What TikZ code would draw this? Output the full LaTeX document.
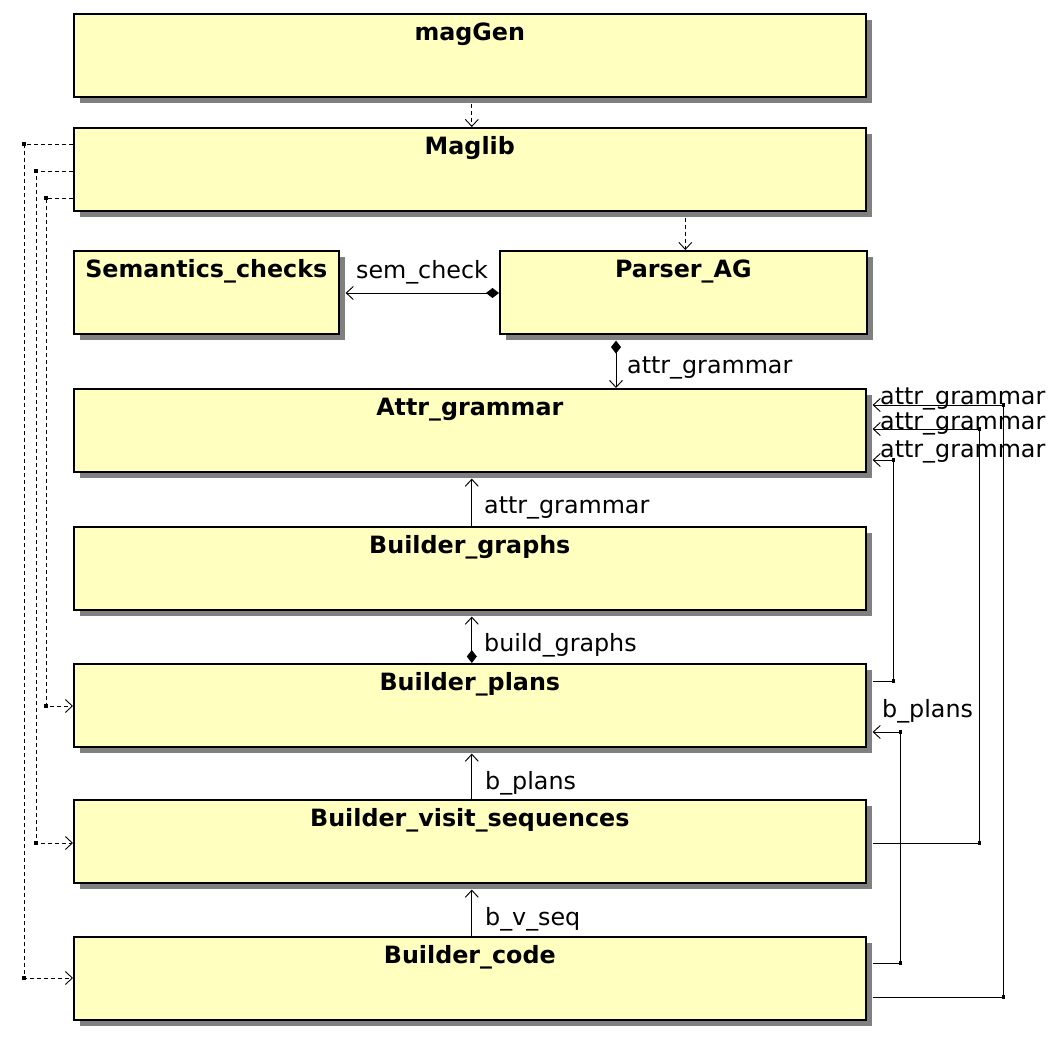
\documentclass[tikz,border=0pt]{standalone}
\usepackage{fontspec}
\setmainfont{DejaVu Sans}
\usetikzlibrary{arrows.meta,calc,shadows}
\definecolor{boxfill}{RGB}{255,255,192}
\definecolor{shadowgray}{RGB}{128,128,128}
\newcommand\cornerdot[1]{\fill (#1) ++(-1.6,-1.6) rectangle ++(3.2,3.2);}
\begin{document}
\begin{tikzpicture}[x=1pt,y=-1pt,
  box/.style={draw=black, line width=1.6pt, fill=boxfill, rectangle, anchor=north west,
    inner sep=0pt, minimum height=83pt, text height=27pt, text depth=56pt,
    font=\bfseries\fontsize{23.8}{28}\selectfont,
    drop shadow={shadow xshift=6pt, shadow yshift=-6pt, fill=shadowgray, opacity=1}},
  lbl/.style={font=\fontsize{23.8}{28}\selectfont, inner sep=0pt, anchor=base west},
  conn/.style={line width=0.95pt, -{Straight Barb[length=7pt,width=13pt]}},
  dconn/.style={conn, line width=0.9pt, dash pattern=on 4pt off 3pt},
  dia/.style={{Diamond[length=13pt,width=10pt]}-{Straight Barb[length=7pt,width=13pt]}}]
\useasboundingbox (0,0) rectangle (1058,1037);
% boxes
\node[box, minimum width=792pt] (maggen) at (73,13) {magGen};
\node[box, minimum width=792pt] (maglib) at (73,127) {Maglib};
\node[box, minimum width=265pt] (sem) at (73,250) {Semantics\_checks};
\node[box, minimum width=367pt] (parser) at (499,250) {Parser\_AG};
\node[box, minimum width=792pt] (attr) at (73,388) {Attr\_grammar};
\node[box, minimum width=792pt] (graphs) at (73,526) {Builder\_graphs};
\node[box, minimum width=792pt] (plans) at (73,663) {Builder\_plans};
\node[box, minimum width=792pt] (visit) at (73,799) {Builder\_visit\_sequences};
\node[box, minimum width=792pt] (code) at (73,936) {Builder\_code};
% dashed dependencies
\draw[dconn] ($(maggen.south)+(2,6)$) -- ($(maglib.north)+(2,0)$);
\coordinate (mp) at (maglib.south -| parser.north);
\draw[dconn] ($(mp)+(2,6)$) -- ($(parser.north)+(2,0)$);
\draw[dconn] ($(maglib.north west)+(0,17)$) -- ($(maglib.north west)+(-49,17)$) -- ($(code.north west)+(-49,42)$) -- ($(code.north west)+(0,42)$);
\draw[dconn] ($(maglib.north west)+(0,44)$) -- ($(maglib.north west)+(-37,44)$) -- ($(visit.north west)+(-37,44)$) -- ($(visit.north west)+(0,44)$);
\draw[dconn] ($(maglib.north west)+(0,71)$) -- ($(maglib.north west)+(-27,71)$) -- ($(plans.north west)+(-27,43)$) -- ($(plans.north west)+(0,43)$);
\cornerdot{$(maglib.north west)+(-49,17)$}
\cornerdot{$(code.north west)+(-49,42)$}
\cornerdot{$(maglib.north west)+(-37,44)$}
\cornerdot{$(visit.north west)+(-37,44)$}
\cornerdot{$(maglib.north west)+(-27,71)$}
\cornerdot{$(plans.north west)+(-27,43)$}
% solid connectors
\draw[conn,dia] ($(parser.north west)+(0,43)$) -- ($(sem.north east)+(6,43)$);
\node[lbl, anchor=base] (lsem) at (422,278) {sem\_check};
\draw[conn,dia] ($(parser.south west)+(117,6)$) -- ($(attr.north west)+(543,0)$);
\node[lbl] (lpa) at (627,373) {attr\_grammar};
\draw[conn] ($(graphs.north)+(2,0)$) -- ($(attr.south)+(2,6)$);
\node[lbl] (lga) at (484,513) {attr\_grammar};
\draw[conn,dia] ($(plans.north)+(2,0)$) -- ($(graphs.south)+(2,6)$);
\node[lbl] (lpg) at (484,651) {build\_graphs};
\draw[conn] ($(visit.north)+(2,0)$) -- ($(plans.south)+(2,6)$);
\node[lbl] (lvp) at (485,789) {b\_plans};
\draw[conn] ($(code.north)+(2,0)$) -- ($(visit.south)+(2,6)$);
\node[lbl] (lcv) at (485,925) {b\_v\_seq};
% right side connectors
\draw[conn] ($(plans.north east)+(6,18)$) -- ($(plans.north east)+(27,18)$) -- ($(attr.north east)+(27,72)$) -- ($(attr.north east)+(6,72)$);
\cornerdot{$(plans.north east)+(27,18)$}
\cornerdot{$(attr.north east)+(27,72)$}
\draw[conn] ($(visit.north east)+(6,44)$) -- ($(visit.north east)+(113,44)$) -- ($(attr.north east)+(113,41)$) -- ($(attr.north east)+(6,41)$);
\cornerdot{$(visit.north east)+(113,44)$}
\cornerdot{$(attr.north east)+(113,41)$}
\draw[conn] ($(code.north east)+(6,61)$) -- ($(code.north east)+(137,61)$) -- ($(attr.north east)+(137,17)$) -- ($(attr.north east)+(6,17)$);
\cornerdot{$(code.north east)+(137,61)$}
\cornerdot{$(attr.north east)+(137,17)$}
\draw[conn] ($(code.north east)+(6,27)$) -- ($(code.north east)+(34,27)$) -- ($(plans.north east)+(34,69)$) -- ($(plans.north east)+(6,69)$);
\cornerdot{$(code.north east)+(34,27)$}
\cornerdot{$(plans.north east)+(34,69)$}
\node[lbl] (lca) at (880,404) {attr\_grammar};
\node[lbl] (lva) at (880,429) {attr\_grammar};
\node[lbl] (lpa2) at (880,457) {attr\_grammar};
\node[lbl] (lcp) at (882,717) {b\_plans};
\end{tikzpicture}
\end{document}
